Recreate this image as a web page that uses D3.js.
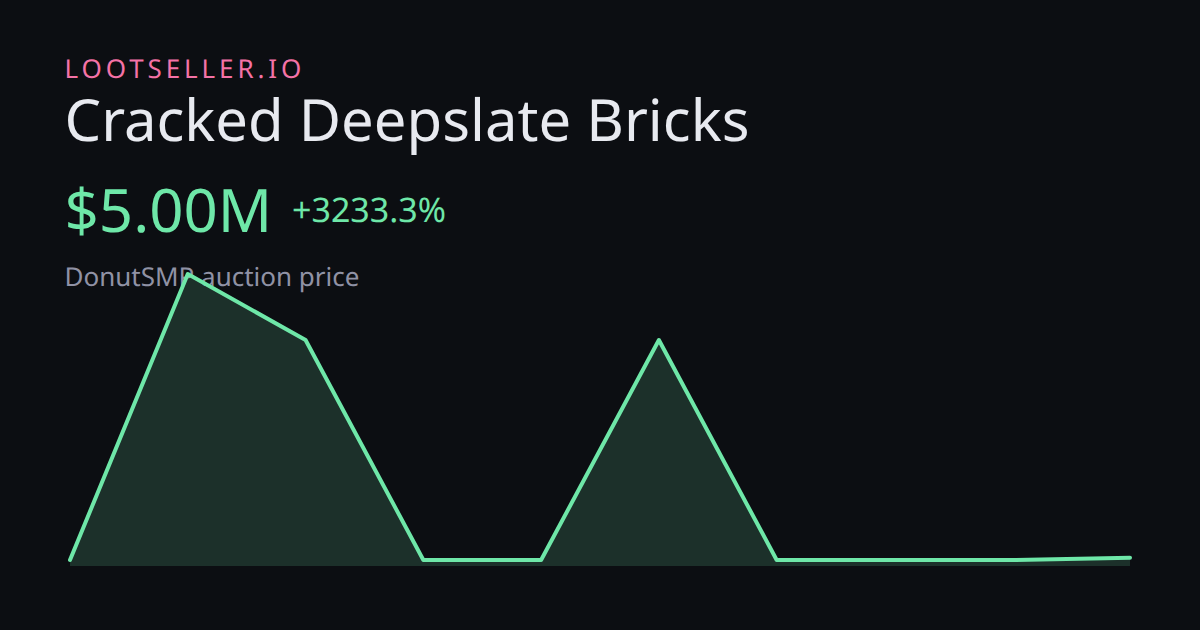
<!DOCTYPE html>
<html>
<head>
<meta charset="utf-8">
<script src="https://cdn.jsdelivr.net/npm/d3@7"></script>
<style>
html, body { margin: 0; padding: 0; background: #0c0e12; }
svg { display: block; }
text { font-family: "Noto Sans", sans-serif; text-rendering: geometricPrecision; }
</style>
</head>
<body>
<script>
var WIDTH = 1200;
var HEIGHT = 630;

var brand = 'LOOTSELLER.IO';
var title = 'Cracked Deepslate Bricks';
var price = '$5.00M';
var change = '+3233.3%';
var subtitle = 'DonutSMP auction price';

// price in millions, one point per sample
var steps = [0, 1, 2, 3, 4, 5, 6, 7, 8, 9];
var prices = [0.15, 5.0, 3.88, 0.15, 0.15, 3.88, 0.15, 0.15, 0.15, 0.19];

var x = d3.scaleLinear().domain([0, 9]).range([70, 1130]);
var y = d3.scaleLinear().domain([0.15, 5]).range([560, 274]);

var svg = d3.select('body').append('svg')
	.attr('width', WIDTH)
	.attr('height', HEIGHT);

svg.append('rect')
	.attr('width', WIDTH)
	.attr('height', HEIGHT)
	.attr('fill', '#0c0e12');

// text goes first, the chart is painted over the subtitle
var labels = svg.append('g')
	.style('opacity', 0.999);

labels.append('text')
	.attr('x', 64.5).attr('y', 78)
	.attr('font-size', 26)
	.attr('letter-spacing', 3.9)
	.attr('fill', '#f472a6')
	.text(brand);

labels.append('text')
	.attr('x', 64.5).attr('y', 141)
	.attr('font-size', 58)
	.attr('fill', '#e8eaf0')
	.text(title);

labels.append('text')
	.attr('x', 64.5).attr('y', 232)
	.attr('font-size', 60)
	.attr('fill', '#6ee7a8')
	.text(price);

labels.append('text')
	.attr('x', 292).attr('y', 222)
	.attr('font-size', 34)
	.attr('fill', '#6ee7a8')
	.text(change);

labels.append('text')
	.attr('x', 64.5).attr('y', 286)
	.attr('font-size', 26)
	.attr('fill', '#9092a5')
	.text(subtitle);

var area = d3.area()
	.x(function(d, i) { return x(steps[i]); })
	.y0(566)
	.y1(function(d) { return y(d); });

var line = d3.line()
	.x(function(d, i) { return x(steps[i]); })
	.y(function(d) { return y(d); });

svg.append('path')
	.attr('d', area(prices))
	.attr('fill', '#6ee7a8')
	.attr('fill-opacity', 0.16);

svg.append('path')
	.attr('d', line(prices))
	.attr('fill', 'none')
	.attr('stroke', '#6ee7a8')
	.attr('stroke-width', 4)
	.attr('stroke-linejoin', 'round')
	.attr('stroke-linecap', 'round');
</script>
</body>
</html>
